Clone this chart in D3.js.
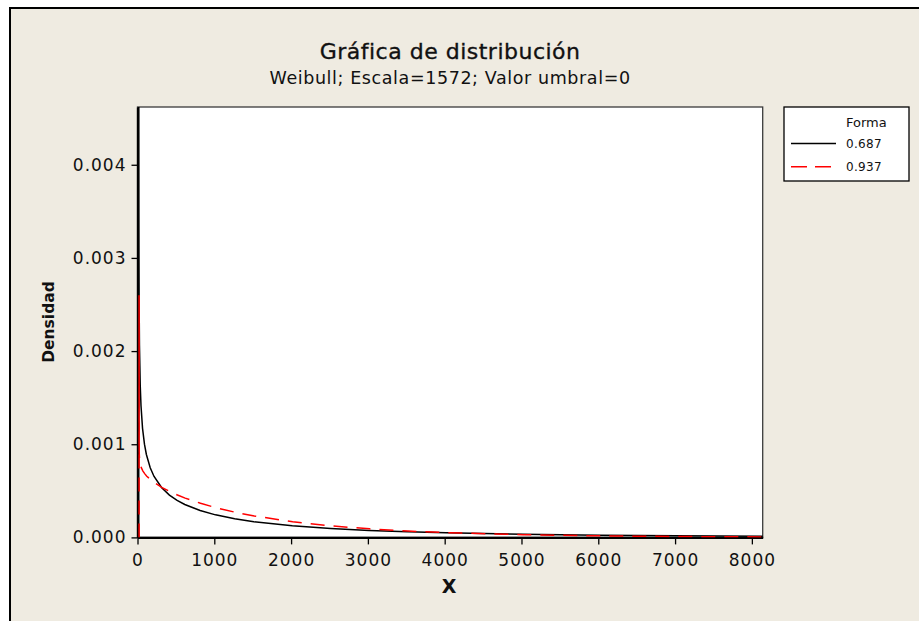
<!DOCTYPE html>
<html>
<head>
<meta charset="utf-8">
<script src="https://cdn.jsdelivr.net/npm/d3@7"></script>
<style>
  html, body { margin: 0; padding: 0; background: #ffffff; }
  svg { display: block; }
  text { font-family: "DejaVu Sans", Verdana, sans-serif; fill: #111; }
</style>
</head>
<body>
<svg id="chart" width="919" height="621"></svg>
<script>
// ---- data ----
const chartTitle = "Gráfica de distribución";
const chartSubtitle = "Weibull; Escala=1572; Valor umbral=0";
const xLabel = "X";
const yLabel = "Densidad";
const legendTitle = "Forma";
const seriesNames = ["0.687", "0.937"];

const xTicks = [0, 1000, 2000, 3000, 4000, 5000, 6000, 7000, 8000];
const yTicks = [0.000, 0.001, 0.002, 0.003, 0.004];
const xMax = 8141;
const yMax = 0.00462;

// shape 0.687
const xBlack = [0, 0.5, 1, 2, 3, 5, 10, 20, 30, 50, 75, 100, 150, 200, 300, 400, 500, 600, 800, 1000, 1250, 1500, 2000, 2500, 3000, 3500, 4000, 5000, 6000, 7000, 8141];
const yBlack = [0, 0.00544, 0.004348, 0.003486, 0.003061, 0.002593, 0.002063, 0.001630, 0.001413, 0.001171, 0.001001, 0.000890, 0.000747, 0.000654, 0.000533, 0.000454, 0.000397, 0.000353, 0.000288, 0.000242, 0.000200, 0.000168, 0.0001246, 0.0000955, 0.0000751, 0.0000601, 0.0000488, 0.0000332, 0.0000234, 0.0000168, 0.0000118];

// shape 0.937
const xRed = [0, 0, 1, 2, 3, 5, 10, 20, 30, 50, 75, 100, 150, 200, 300, 400, 500, 600, 800, 1000, 1250, 1500, 2000, 2500, 3000, 3500, 4000, 5000, 6000, 7000, 8141];
const yRed = [0, 0.0026, 0.000947, 0.000905, 0.000882, 0.000852, 0.000813, 0.000772, 0.000746, 0.000712, 0.000682, 0.000657, 0.000619, 0.000587, 0.000535, 0.000492, 0.000455, 0.000422, 0.000366, 0.000319, 0.000270, 0.000230, 0.0001677, 0.0001236, 0.0000916, 0.0000682, 0.0000510, 0.0000288, 0.0000164, 0.0000094, 0.0000050];

// ---- layout ----
const svg = d3.select("#chart");
const plot = { left: 137.5, right: 762.7, top: 107, bottom: 537.4 };
const bg = "#efebe1";

const x = d3.scaleLinear().domain([0, xMax]).range([plot.left, plot.right]);
const y = d3.scaleLinear().domain([0, yMax]).range([plot.bottom, plot.top]);

// outer frame
svg.append("rect").attr("x", 10).attr("y", 8).attr("width", 1000).attr("height", 1000)
  .attr("fill", bg).attr("stroke", "#000").attr("stroke-width", 2);

// plot area
svg.append("rect").attr("x", plot.left).attr("y", plot.top)
  .attr("width", plot.right - plot.left).attr("height", plot.bottom - plot.top)
  .attr("fill", "#fff").attr("stroke", "#3a3a3a").attr("stroke-width", 1.3);

// titles
const cx = (plot.left + plot.right) / 2;
svg.append("text").attr("x", cx).attr("y", 59).attr("text-anchor", "middle")
  .attr("font-size", 22).attr("letter-spacing", 0.5)
  .attr("stroke", "#111").attr("stroke-width", 0.35).text(chartTitle);
svg.append("text").attr("x", cx).attr("y", 84).attr("text-anchor", "middle")
  .attr("font-size", 17.5).attr("letter-spacing", 0.6).text(chartSubtitle);

// axes
const xAxis = svg.append("g").attr("transform", `translate(0,${plot.bottom})`)
  .call(d3.axisBottom(x).tickValues(xTicks).tickFormat(d3.format("d")).tickSizeInner(7).tickSizeOuter(0).tickPadding(9.5));
const yAxis = svg.append("g").attr("transform", `translate(${plot.left},0)`)
  .call(d3.axisLeft(y).tickValues(yTicks).tickFormat(d3.format(".3f")).tickSizeInner(6).tickSizeOuter(0).tickPadding(5));

[xAxis, yAxis].forEach(a => {
  a.select(".domain").attr("stroke", "#000").attr("stroke-width", 2.2);
  a.selectAll(".tick line").attr("stroke", "#000").attr("stroke-width", 1.3);
  a.selectAll(".tick text").attr("font-family", "DejaVu Sans, sans-serif")
    .attr("font-size", 17).attr("letter-spacing", 1).attr("fill", "#222");
});

// clip (slightly wider on the left so the x=0 spike shows over the axis)
svg.append("clipPath").attr("id", "clip").append("rect")
  .attr("x", plot.left - 2).attr("y", plot.top)
  .attr("width", plot.right - plot.left + 2).attr("height", plot.bottom - plot.top);

const line = d3.line().x(d => x(d[0])).y(d => y(d[1]));
const g = svg.append("g").attr("clip-path", "url(#clip)");
g.append("path").datum(d3.zip(xBlack, yBlack)).attr("d", line)
  .attr("transform", "translate(1.2,0)")
  .attr("fill", "none").attr("stroke", "#000").attr("stroke-width", 1.5);
g.append("path").datum(d3.zip(xRed, yRed)).attr("d", line)
  .attr("transform", "translate(1.6,0)")
  .attr("fill", "none").attr("stroke", "#ff0000").attr("stroke-width", 1.5)
  .attr("stroke-dasharray", "14,9");

// axis labels
svg.append("text").attr("x", cx - 1).attr("y", 593).attr("text-anchor", "middle")
  .attr("font-size", 19).attr("font-weight", "bold").text(xLabel);
svg.append("text").attr("transform", `translate(54,322) rotate(-90)`)
  .attr("text-anchor", "middle").attr("font-size", 15.5).attr("font-weight", "bold").text(yLabel);

// legend
const lg = svg.append("g");
lg.append("rect").attr("x", 784).attr("y", 107).attr("width", 125).attr("height", 74)
  .attr("fill", "#fff").attr("stroke", "#000").attr("stroke-width", 1.3);
lg.append("text").attr("x", 846).attr("y", 127).attr("font-size", 13).text(legendTitle);
const legendColors = ["#000", "#ff0000"];
const legendDash = [null, "16,8"];
seriesNames.forEach((nm, i) => {
  const yy = 143.5 + i * 23.3;
  lg.append("line").attr("x1", 791).attr("x2", 836).attr("y1", yy).attr("y2", yy)
    .attr("stroke", legendColors[i]).attr("stroke-width", 1.5)
    .attr("stroke-dasharray", legendDash[i]);
  lg.append("text").attr("x", 846).attr("y", yy + 4.5).attr("font-size", 12).attr("letter-spacing", 0.3).text(nm);
});
</script>
</body>
</html>
